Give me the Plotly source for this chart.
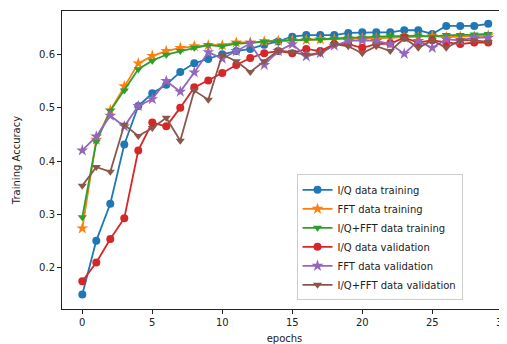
import plotly.graph_objects as go

epochs = list(range(30))

iq_train = [0.150, 0.251, 0.320, 0.431, 0.503, 0.527, 0.543, 0.567, 0.583, 0.591,
            0.600, 0.606, 0.610, 0.618, 0.624, 0.633, 0.636, 0.636, 0.636, 0.640,
            0.641, 0.641, 0.641, 0.645, 0.645, 0.638, 0.653, 0.653, 0.653, 0.657]
fft_train = [0.274, 0.440, 0.495, 0.540, 0.583, 0.597, 0.606, 0.612, 0.615, 0.617,
             0.617, 0.622, 0.622, 0.624, 0.625, 0.626, 0.627, 0.628, 0.628, 0.629,
             0.630, 0.630, 0.631, 0.631, 0.632, 0.634, 0.632, 0.633, 0.633, 0.635]
iqfft_train = [0.295, 0.436, 0.494, 0.532, 0.572, 0.588, 0.599, 0.606, 0.612, 0.617,
               0.615, 0.620, 0.621, 0.624, 0.625, 0.626, 0.627, 0.627, 0.629, 0.631,
               0.631, 0.633, 0.634, 0.634, 0.635, 0.633, 0.636, 0.636, 0.637, 0.638]
iq_val = [0.175, 0.210, 0.254, 0.293, 0.420, 0.472, 0.465, 0.500, 0.538, 0.551,
          0.565, 0.580, 0.593, 0.602, 0.606, 0.602, 0.610, 0.606, 0.619, 0.619,
          0.612, 0.619, 0.620, 0.631, 0.622, 0.626, 0.622, 0.619, 0.622, 0.622]
fft_val = [0.420, 0.446, 0.485, 0.465, 0.503, 0.516, 0.550, 0.530, 0.566, 0.604,
           0.592, 0.606, 0.620, 0.580, 0.606, 0.619, 0.596, 0.602, 0.616, 0.625,
           0.626, 0.625, 0.619, 0.601, 0.625, 0.612, 0.628, 0.626, 0.631, 0.631]
iqfft_val = [0.354, 0.389, 0.380, 0.468, 0.447, 0.462, 0.481, 0.438, 0.532, 0.515,
             0.599, 0.587, 0.567, 0.587, 0.607, 0.604, 0.599, 0.602, 0.619, 0.615,
             0.602, 0.615, 0.606, 0.630, 0.612, 0.626, 0.612, 0.626, 0.626, 0.623]

series = [
    ("I/Q data training", iq_train, "#1f77b4", "circle", 8),
    ("FFT data training", fft_train, "#ff7f0e", "star", 9),
    ("I/Q+FFT data training", iqfft_train, "#2ca02c", "triangle-down", 8),
    ("I/Q data validation", iq_val, "#d62728", "circle", 8),
    ("FFT data validation", fft_val, "#9467bd", "star", 9),
    ("I/Q+FFT data validation", iqfft_val, "#8c564b", "triangle-down", 8),
]

fig = go.Figure()
for name, vals, color, sym, size in series:
    fig.add_trace(go.Scatter(
        x=epochs, y=vals, name=name, mode="lines+markers",
        line=dict(color=color, width=1.8),
        marker=dict(color=color, symbol=sym, size=size, line=dict(width=0)),
    ))

font = "DejaVu Sans, sans-serif"
# the page body adds an 8px offset, so the figure is sized/margined to compensate
fig.update_layout(
    width=499, height=336,
    margin=dict(l=54, r=0, t=3, b=35),
    paper_bgcolor="white", plot_bgcolor="white",
    font=dict(family=font, size=10, color="#222222"),
    showlegend=True,
    legend=dict(
        x=0.527, y=0.452, xanchor="left", yanchor="top",
        bgcolor="rgba(255,255,255,0.8)", bordercolor="#cccccc", borderwidth=1,
        font=dict(family=font, size=10, color="#222222"),
        tracegroupgap=0, itemwidth=30,
    ),
    xaxis=dict(
        range=[-1.45, 30.34], tickmode="linear", tick0=0, dtick=5,
        showgrid=False, zeroline=False, showline=True, linecolor="#222222",
        linewidth=1, mirror=True, ticks="outside", ticklen=4, tickcolor="#222222",
        ticklabeloverflow="allow",
        title=dict(text="epochs", standoff=10, font=dict(size=10)),
        automargin=False,
    ),
    yaxis=dict(
        range=[0.123, 0.681], tickmode="linear", tick0=0.2, dtick=0.1,
        showgrid=False, zeroline=False, showline=True, linecolor="#222222",
        linewidth=1, ticks="outside", ticklen=4, tickcolor="#222222",
        title=dict(text="Training Accuracy", standoff=16, font=dict(size=10)),
        automargin=False,
    ),
)

fig.write_html("out.html")
